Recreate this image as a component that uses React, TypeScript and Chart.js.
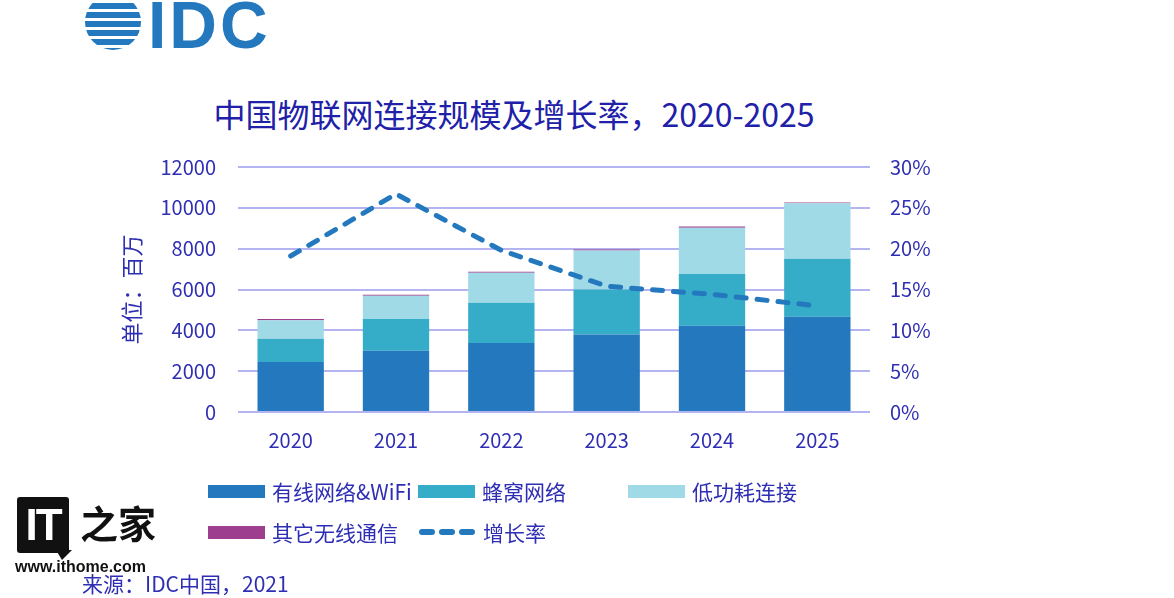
import React, { useEffect, useRef } from 'react';
import { Chart, registerables } from 'chart.js';

Chart.register(...registerables);

const categories = ['2020', '2021', '2022', '2023', '2024', '2025'];
const seriesNames = ['有线网络&WiFi', '蜂窝网络', '低功耗连接', '其它无线通信'];
const growthName = '增长率';
const wired = [2450, 3000, 3380, 3800, 4230, 4670];
const cellular = [1140, 1550, 1975, 2200, 2530, 2840];
const lpwa = [910, 1140, 1470, 1910, 2270, 2710];
const otherWireless = [60, 50, 50, 50, 50, 40];
const growthRate = [19.1, 26.7, 19.8, 15.4, 14.4, 13.0];
const seriesColors = ['#2479be', '#35acc8', '#a0dae6', '#9e3e8e'];
const growthColor = '#2479be';
const leftMax = 12000;
const leftStep = 2000;
const rightMax = 30;
const rightStep = 5;
const titleText = '中国物联网连接规模及增长率，2020-2025';
const axisTitle = '单位：百万';
const sourceText = '来源：IDC中国，2021';

const FONT = '"Noto Sans CJK SC", "Noto Sans", sans-serif';
const TEXT = '#2e2eb4';
const GRID = '#b4b4f0';

function Swatch({ color, dashed }: { color: string; dashed?: boolean }) {
  if (dashed) {
    return (
      <svg width={58} height={14} style={{ display: 'block' }}>
        <line x1={4} y1={7} x2={54} y2={7} stroke={color} strokeWidth={6}
          strokeLinecap="round" strokeDasharray="10 10" />
      </svg>
    );
  }
  return <div style={{ width: 57, height: 13, background: color }} />;
}

export default function App() {
  const ref = useRef<HTMLCanvasElement | null>(null);

  useEffect(() => {
    if (!ref.current) return;
    const barSets = [wired, cellular, lpwa, otherWireless].map((d, i) => ({
      type: 'bar' as const,
      label: seriesNames[i],
      data: d,
      backgroundColor: seriesColors[i],
      borderWidth: 0,
      yAxisID: 'y',
      stack: 's',
      barPercentage: 0.63,
      categoryPercentage: 1,
      order: 1,
    }));
    const chart = new Chart(ref.current, {
      data: {
        labels: categories,
        datasets: [
          ...barSets,
          {
            type: 'line' as const,
            label: growthName,
            data: growthRate,
            borderColor: growthColor,
            borderWidth: 5,
            borderDash: [10, 11],
            borderCapStyle: 'round',
            pointRadius: 0,
            tension: 0,
            yAxisID: 'y1',
            order: 0,
          } as any,
        ],
      },
      options: {
        responsive: false,
        animation: false,
        devicePixelRatio: 1,
        layout: { padding: { left: 100, right: 224, top: 167, bottom: 126 } },
        plugins: { legend: { display: false }, tooltip: { enabled: false } },
        scales: {
          x: {
            stacked: true,
            grid: { display: false },
            border: { display: false },
            ticks: { color: TEXT, font: { size: 20, family: FONT }, padding: 8 },
            afterFit: (s: any) => { s.height = 60; },
          },
          y: {
            position: 'left',
            stacked: true,
            min: 0,
            max: leftMax,
            ticks: {
              stepSize: leftStep, color: TEXT, font: { size: 20, family: FONT }, padding: 22,
              callback: (v: any) => String(v),
            },
            grid: { color: GRID, lineWidth: 2, drawTicks: false },
            border: { display: false },
            title: {
              display: true,
              text: axisTitle,
              color: TEXT,
              font: { size: 22, family: FONT },
              padding: { top: 18, bottom: 0 },
            },
            afterFit: (s: any) => { s.width = 138; },
          },
          y1: {
            position: 'right',
            min: 0,
            max: rightMax,
            ticks: {
              stepSize: rightStep,
              color: TEXT,
              font: { size: 20, family: FONT },
              padding: 20,
              callback: (v: any) => v + '%',
            },
            grid: { display: false, drawTicks: false },
            border: { display: false },
            afterFit: (s: any) => { s.width = 80; },
          },
        },
      } as any,
    });
    return () => chart.destroy();
  }, []);

  const legendItems = [
    { name: seriesNames[0], color: seriesColors[0], dashed: false },
    { name: seriesNames[1], color: seriesColors[1], dashed: false },
    { name: seriesNames[2], color: seriesColors[2], dashed: false },
    { name: seriesNames[3], color: seriesColors[3], dashed: false },
    { name: growthName, color: growthColor, dashed: true },
  ];

  return (
    <div style={{ position: 'absolute', left: 0, top: 0, width: 1174, height: 598, overflow: 'hidden', background: '#fff', fontFamily: FONT }}>
      {/* IDC logo */}
      <div style={{
        position: 'absolute', left: 85, top: -6, width: 56, height: 56, borderRadius: '50%',
        background: 'repeating-linear-gradient(to bottom, #2479be 0px, #2479be 6px, #fff 6px, #fff 9px)',
      }} />
      <div style={{
        position: 'absolute', left: 148, top: -8, fontFamily: '"Liberation Sans", Arial, sans-serif',
        fontSize: 66, fontWeight: 700, lineHeight: 1, color: '#2479be', letterSpacing: 3, whiteSpace: 'nowrap',
      }}>IDC</div>

      {/* title */}
      <div style={{
        position: 'absolute', left: 0, width: 1028, top: 92, textAlign: 'center', fontSize: 32,
        lineHeight: '42px', color: '#2020a8', whiteSpace: 'nowrap',
      }}>{titleText}</div>

      <canvas ref={ref} width={1174} height={598} style={{ position: 'absolute', left: 0, top: 0, width: 1174, height: 598 }} />

      {/* legend */}
      {legendItems.map((it, i) => {
        const col = i < 3 ? i : i - 3;
        const row = i < 3 ? 0 : 1;
        return (
          <div key={it.name} style={{
            position: 'absolute', left: 208 + col * 210, top: 491 + row * 41 - 15, height: 30,
            display: 'flex', alignItems: 'center', whiteSpace: 'nowrap',
          }}>
            <Swatch color={it.color} dashed={it.dashed} />
            <span style={{ marginLeft: 7, fontSize: 21, color: TEXT, lineHeight: '30px' }}>{it.name}</span>
          </div>
        );
      })}

      {/* IT home watermark */}
      <div style={{ position: 'absolute', left: 17, top: 497, width: 52, height: 56, background: '#111', borderRadius: 3 }} />
      <div style={{ position: 'absolute', left: 56, top: 550, width: 0, height: 0, borderLeft: '6px solid transparent', borderRight: '10px solid transparent', borderTop: '10px solid #111' }} />
      <div style={{ position: 'absolute', left: 20, top: 500, width: 46, height: 50, color: '#fff', fontFamily: '"Liberation Sans", Arial, sans-serif', fontWeight: 700, fontSize: 44, lineHeight: '50px', textAlign: 'center', letterSpacing: -2 }}>IT</div>
      <div style={{ position: 'absolute', left: 80, top: 498, fontFamily: '"Noto Sans CJK SC", serif', fontWeight: 700, fontSize: 38, lineHeight: '48px', color: '#111', whiteSpace: 'nowrap' }}>之家</div>
      <div style={{ position: 'absolute', left: 15, top: 557, fontFamily: '"Liberation Sans", Arial, sans-serif', fontWeight: 700, fontSize: 16, lineHeight: '20px', color: '#111', whiteSpace: 'nowrap' }}>www.ithome.com</div>

      {/* source */}
      <div style={{ position: 'absolute', left: 82, top: 568, fontSize: 21, lineHeight: '30px', color: TEXT, whiteSpace: 'nowrap' }}>{sourceText}</div>
    </div>
  );
}
